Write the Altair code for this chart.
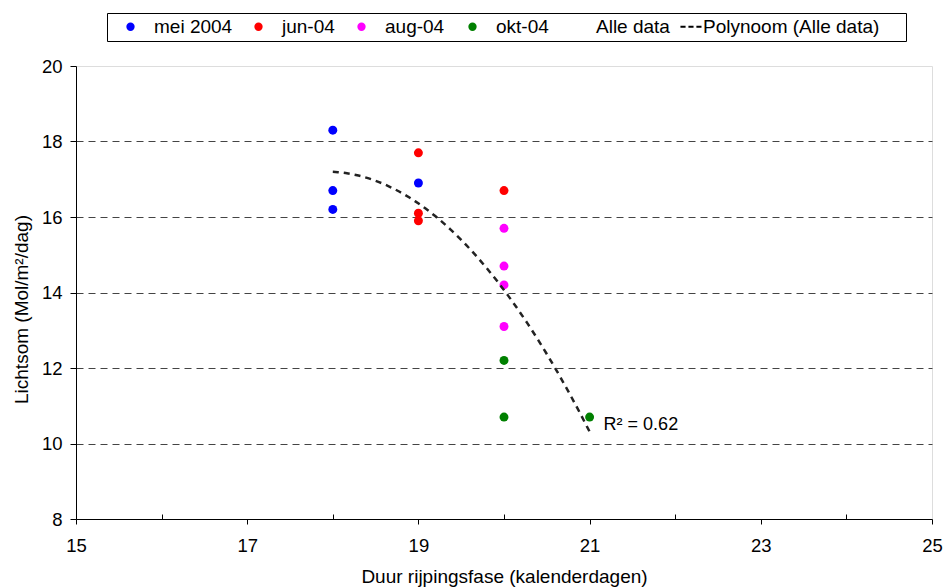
import altair as alt
import pandas as pd

FONT = "Liberation Sans"

# ---- data ----
series_names = ["mei 2004", "jun-04", "aug-04", "okt-04"]
series_colors = ["#0000FF", "#FF0000", "#FF00FF", "#008000"]
legend_domain = series_names + ["Alle data", "Polynoom (Alle data)"]
point_series = ["mei 2004"] * 4 + ["jun-04"] * 4 + ["aug-04"] * 4 + ["okt-04"] * 3
duur = [18, 18, 18, 19, 19, 19, 19, 20, 20, 20, 20, 20, 20, 20, 21]
lichtsom = [18.3, 16.7, 16.2, 16.9, 17.7, 16.1, 15.9, 16.7,
            15.7, 14.7, 14.2, 13.1, 12.2, 10.7, 10.7]
x_major = [15, 17, 19, 21, 23, 25]
x_minor = [16, 18, 20, 22, 24]
y_ticks = [8, 10, 12, 14, 16, 18, 20]
r2_text = ["R² = 0.62"]
r2_x = [21]
r2_y = [10.49]

legend_fill = series_colors + ["transparent", "transparent"]
legend_stroke = series_colors + ["transparent", "#000000"]

df = pd.DataFrame({"duur": duur, "lichtsom": lichtsom, "reeks": point_series})
df_r2 = pd.DataFrame({"duur": r2_x, "lichtsom": r2_y, "t": r2_text})

# legend key glyphs (unit coordinates); a leading move-to reserves space before each key
CIRCLE = "M1,0A1,1,0,1,1,-1,0A1,1,0,1,1,1,0Z"
legend_shapes = [
    CIRCLE,
    "M-6.64,0" + CIRCLE,
    "M-6.94,0" + CIRCLE,
    "M-7.24,0" + CIRCLE,
    "M-6.04,0" + CIRCLE,
    "M0.3,0L1.92,0M2.82,0L4.44,0M5.34,0L6.96,0M68.9,0",
]

NB = "\u00a0"
legend = alt.Legend(
    title=NB * 3, titleOrient="left", titleFontSize=17, titlePadding=10,
    orient="none", legendX=31, legendY=-53, direction="horizontal",
    strokeColor="black", fillColor="white", padding=4, columnPadding=0,
    labelFont=FONT, labelFontSize=19, labelColor="black", labelOffset=14,
    labelLimit=600, symbolSize=40, symbolStrokeWidth=2,
)

xscale = alt.Scale(domain=[15, 25], nice=False, zero=False)
yscale = alt.Scale(domain=[8, 20], nice=False, zero=False)

x_axis = alt.Axis(
    values=x_major, tickSize=5, labelPadding=12, labelFont=FONT, labelFontSize=18.5,
    labelColor="black", labelFlush=False, domainColor="black", tickColor="black", grid=False,
    title="Duur rijpingsfase (kalenderdagen)", titleFont=FONT, titleFontSize=19,
    titleFontWeight="normal", titleColor="black", titleX=428, titleY=63,
    titleBaseline="alphabetic", titleAlign="center", orient="bottom",
)
x_minor_axis = alt.Axis(
    values=x_minor, tickSize=5, offset=-5, labels=False, domain=False,
    tickColor="black", grid=False, title=None, orient="bottom",
)
y_axis = alt.Axis(
    values=y_ticks, tickSize=6, labelPadding=8, labelFont=FONT, labelFontSize=18.5,
    labelColor="black", labelFlush=False, domainColor="black", tickColor="black",
    grid=True, gridDash=[7, 5], gridColor="#444444", gridWidth=1,
    gridOpacity={"condition": {"test": "datum.value == 20 || datum.value == 8", "value": 0}, "value": 1},
    title="Lichtsom (Mol/m²/dag)", titleFont=FONT, titleFontSize=19,
    titleFontWeight="normal", titleColor="black", titleAngle=270, titleX=-49, titleY=243,
    titleAlign="center", titleBaseline="alphabetic",
)

points = alt.Chart(df).mark_point(filled=True, shape="circle", size=80, opacity=1).encode(
    x=alt.X("duur:Q", scale=xscale, axis=x_axis),
    y=alt.Y("lichtsom:Q", scale=yscale, axis=y_axis),
    color=alt.Color("reeks:N", scale=alt.Scale(domain=series_names, range=series_colors), legend=None),
)

legend_layer = alt.Chart(df).transform_filter("false").mark_point(opacity=1).encode(
    x=alt.X("duur:Q", scale=xscale, axis=None),
    y=alt.Y("lichtsom:Q", scale=yscale),
    fill=alt.Fill("reeks:N", scale=alt.Scale(domain=legend_domain, range=legend_fill), legend=legend),
    stroke=alt.Stroke("reeks:N", scale=alt.Scale(domain=legend_domain, range=legend_stroke), legend=legend),
    shape=alt.Shape("reeks:N", scale=alt.Scale(domain=legend_domain, range=legend_shapes), legend=legend),
)

trend = alt.Chart(df).transform_regression(
    "duur", "lichtsom", method="poly", order=2, extent=[18, 21]
).mark_line(color="#222222", strokeWidth=2.5, strokeDash=[6, 5]).encode(
    x=alt.X("duur:Q", scale=xscale, axis=x_minor_axis),
    y=alt.Y("lichtsom:Q", scale=yscale),
)

r2 = alt.Chart(df_r2).mark_text(
    align="left", baseline="middle", dx=14, font=FONT, fontSize=18, color="black"
).encode(
    x=alt.X("duur:Q", scale=xscale, axis=None),
    y=alt.Y("lichtsom:Q", scale=yscale),
    text="t:N",
)

chart = alt.layer(points, trend, r2, legend_layer).resolve_axis(x="independent").properties(
    width=856, height=453,
    autosize=alt.AutoSizeParams(type="none"),
    padding={"left": 76, "top": 66, "right": 11, "bottom": 68},
).configure_view(stroke="#888888", strokeWidth=1).configure(background="white")

chart.save("out.html", embed_options={"renderer": "svg", "actions": False})
